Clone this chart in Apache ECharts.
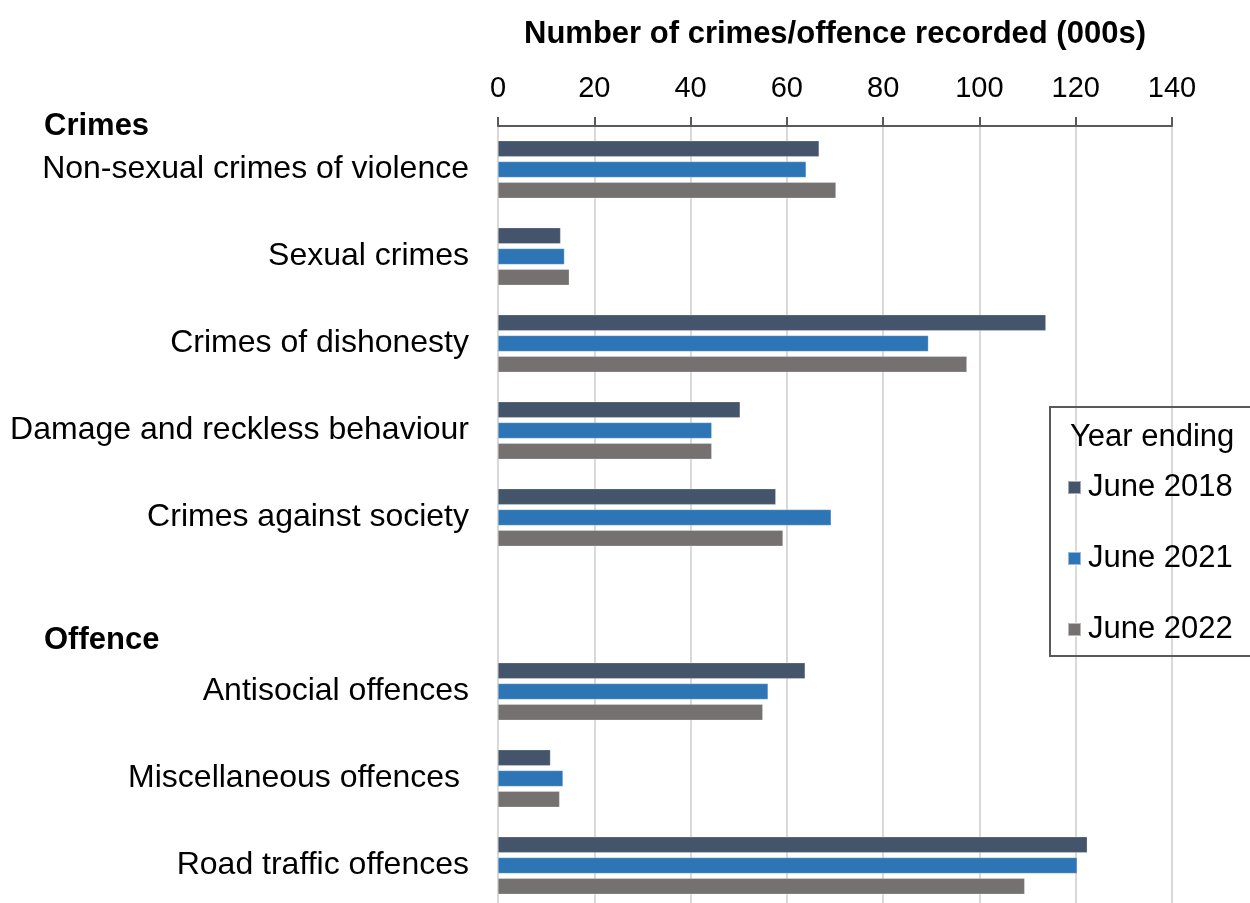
<!DOCTYPE html>
<html>
<head>
<meta charset="utf-8">
<script src="https://cdn.jsdelivr.net/npm/echarts@6/dist/echarts.min.js"></script>
<style>html,body{margin:0;padding:0;background:#fff;}#c{width:1250px;height:903px;}</style>
</head>
<body>
<div id="c"></div>
<script>
const categories = ['Non-sexual crimes of violence','Sexual crimes','Crimes of dishonesty','Damage and reckless behaviour','Crimes against society','','Antisocial offences','Miscellaneous offences ','Road traffic offences'];
const seriesNames = ['June 2018','June 2021','June 2022'];
const june2018 = [66.7, 13.0, 113.8, 50.3, 57.7, null, 63.8, 10.9, 122.4];
const june2021 = [64.0, 13.8, 89.4, 44.4, 69.2, null, 56.1, 13.5, 120.3];
const june2022 = [70.2, 14.8, 97.4, 44.4, 59.2, null, 55.0, 12.8, 109.4];
const xTicks = [0, 20, 40, 60, 80, 100, 120, 140];
const groupHeaders = ['Crimes', 'Offence'];
const colors = ['#44546A', '#2E75B6', '#767171'];
const FONT = '"Liberation Sans", Arial, sans-serif';

const chart = echarts.init(document.getElementById('c'), null, {renderer: 'canvas'});
const values = [june2018, june2021, june2022];
chart.setOption({
  animation: false,
  textStyle: {fontFamily: FONT},
  grid: {left: 498, right: 78, top: 126, height: 783, containLabel: false, outerBoundsMode: 'none'},
  xAxis: {
    type: 'value', position: 'top', min: xTicks[0], max: xTicks[xTicks.length-1], interval: 20,
    name: 'Number of crimes/offence recorded (000s)', nameLocation: 'middle', nameGap: 76,
    nameTextStyle: {fontFamily: FONT, fontSize: 31, fontWeight: 'bold', color: '#000'},
    axisLine: {show: true, lineStyle: {color: '#595959', width: 2}},
    axisTick: {show: true, length: 9, lineStyle: {color: '#595959', width: 2}},
    axisLabel: {fontFamily: FONT, fontSize: 29, color: '#000', margin: 23},
    splitLine: {show: true, lineStyle: {color: '#D9D9D9', width: 2}}
  },
  yAxis: {
    type: 'category', data: categories, inverse: true,
    axisLine: {show: true, lineStyle: {color: '#D9D9D9', width: 2}},
    axisTick: {show: false},
    axisLabel: {fontFamily: FONT, fontSize: 32, color: '#000', margin: 29, padding: [9, 0, 0, 0]}
  },
  legend: {
    orient: 'vertical', left: 1062, top: 467, itemWidth: 13, itemHeight: 13, itemGap: 40,
    icon: 'rect', data: seriesNames,
    textStyle: {fontFamily: FONT, fontSize: 31, color: '#000', padding: [0,0,0,2]}
  },
  graphic: [
    {type: 'rect', shape: {x: 1050, y: 407, width: 220, height: 249}, style: {fill: 'none', stroke: '#595959', lineWidth: 2}, z: 10},
    {type: 'text', left: 1070, top: 422, style: {text: 'Year ending', font: '31px ' + FONT, fill: '#000'}, z: 10},
    {type: 'text', left: 44, top: 111, style: {text: groupHeaders[0], font: 'bold 31px ' + FONT, fill: '#000'}},
    {type: 'text', left: 44, top: 625, style: {text: groupHeaders[1], font: 'bold 31px ' + FONT, fill: '#000'}}
  ],
  series: seriesNames.map((n, i) => ({
    name: n, type: 'bar', data: values[i], barWidth: 16, barGap: '30%', barCategoryGap: '34%',
    itemStyle: {color: colors[i], borderColor: 'rgba(255,255,255,0.5)', borderWidth: 0.5}
  }))
});
</script>
</body>
</html>
